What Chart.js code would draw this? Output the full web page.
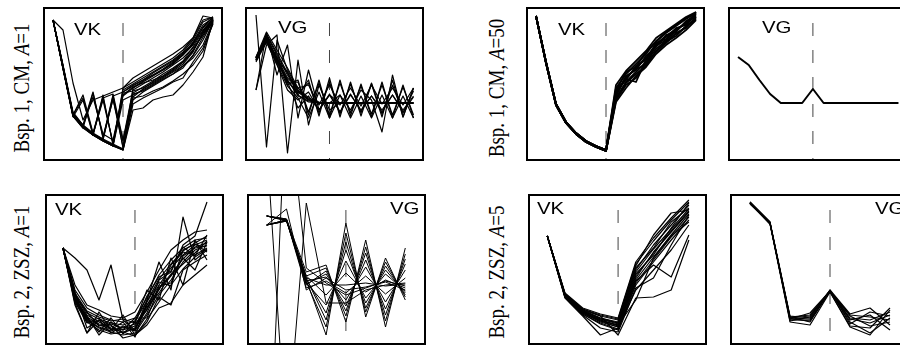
<!DOCTYPE html>
<html>
<head>
<meta charset="utf-8">
<script src="https://cdn.jsdelivr.net/npm/chart.js@4.4.1/dist/chart.umd.min.js"></script>
<style>
  body { margin: 0; background: #fff; }
  #fig { position: relative; width: 900px; height: 347px; overflow: hidden; background: #fff; }
  .panel { position: absolute; border: 2px solid #000; box-sizing: border-box; }
  .panel canvas { display: block; }
  .tag { position: absolute; font-family: "Liberation Sans", Arial, sans-serif; font-size: 17px; line-height: 17px;
         transform: scaleX(1.2); transform-origin: 0 0; white-space: nowrap; color: #000; }
  .rowlab { position: absolute; font-family: "Liberation Serif", "Times New Roman", serif; font-size: 19px; line-height: 19px;
            white-space: nowrap; color: #000; transform: translate(-50%, -50%) scaleX(1.2) rotate(-90deg); }
</style>
</head>
<body>
<div id="fig">
  <div class="rowlab" style="left:21px; top:88px">Bsp. 1, CM, <i>A</i>=1</div>
  <div class="rowlab" style="left:496px; top:88px">Bsp. 1, CM, <i>A</i>=50</div>
  <div class="rowlab" style="left:21px; top:272px">Bsp. 2, ZSZ, <i>A</i>=1</div>
  <div class="rowlab" style="left:496px; top:272px">Bsp. 2, ZSZ, <i>A</i>=5</div>
</div>
<script>
// iteration index on the x axis of each panel
const cmVkIter = [0, 1, 2, 3, 4, 5, 6, 7, 8, 9, 10, 11, 12, 13, 14, 15, 16];
const cmVgIter = [0, 1, 2, 3, 4, 5, 6, 7, 8, 9, 10, 11, 12, 13, 14, 15];
const zszVkIter1 = [0, 1, 2, 3, 4, 5, 6, 7, 8, 9, 10, 11, 12];
const zszVkIter5 = [0, 1, 2, 3, 4, 5, 6, 7, 8];
const zszVgIter = [0, 1, 2, 3, 4, 5, 6, 7];

// Bsp. 1, CM, A=1 -- VK
const cm1VkRuns = [
  [14.1, 9.5, 4.8, 3.5, 2.7, 2.1, 1.6, 1.1, 6.1, 6.9, 7.5, 8.1, 8.7, 9.5, 10.5, 12.1, 14.1],
  [14.1, 9.3, 4.6, 3.4, 2.6, 2.0, 1.5, 6.1, 6.6, 7.1, 7.7, 8.3, 8.9, 9.5, 10.3, 11.6, 13.9],
  [14.1, 9.4, 4.7, 3.5, 2.7, 2.1, 6.5, 6.9, 7.5, 8.1, 8.6, 9.1, 9.7, 10.6, 11.6, 13.1, 14.1],
  [14.1, 9.3, 4.5, 3.3, 2.6, 6.3, 6.7, 2.1, 7.1, 7.7, 8.3, 8.9, 9.6, 10.3, 11.3, 12.6, 14.3],
  [14.1, 9.5, 4.7, 3.6, 6.9, 2.3, 6.6, 1.3, 7.3, 7.9, 8.5, 9.1, 9.8, 10.6, 11.9, 13.6, 14.3],
  [14.1, 9.4, 4.6, 6.6, 2.8, 6.4, 1.7, 7.1, 7.7, 8.3, 8.9, 9.5, 10.1, 10.9, 12.1, 13.9, 14.4],
  [14.1, 13.1, 7.8, 4.1, 6.1, 6.5, 6.9, 7.3, 7.9, 8.5, 9.1, 9.7, 10.3, 11.1, 12.3, 14.1, 14.4],
  [14.1, 9.3, 4.6, 3.4, 2.6, 2.0, 1.5, 1.1, 5.1, 5.3, 6.1, 6.4, 6.6, 7.6, 8.9, 10.4, 14.1],
  [14.1, 9.3, 4.6, 3.5, 2.7, 2.1, 1.6, 7.3, 8.3, 8.9, 9.5, 10.1, 10.7, 11.4, 12.3, 14.5, 14.3],
  [14.1, 9.4, 4.7, 3.5, 6.4, 2.7, 2.1, 6.6, 7.4, 7.8, 8.1, 8.5, 9.1, 9.9, 11.1, 12.6, 13.9],
  [14.1, 9.3, 4.5, 3.4, 2.7, 2.1, 1.5, 1.1, 5.7, 6.3, 6.8, 7.3, 7.9, 8.3, 9.9, 11.3, 13.7],
  [14.1, 9.2, 4.4, 6.1, 2.6, 6.6, 1.6, 6.9, 7.6, 8.1, 8.8, 9.4, 10.0, 10.8, 11.7, 13.3, 14.2],
  [14.1, 9.6, 4.9, 3.6, 2.8, 2.2, 1.7, 1.2, 6.4, 7.2, 7.9, 8.5, 9.2, 9.9, 11.0, 12.8, 14.0],
  [14.1, 9.2, 4.5, 3.3, 6.8, 2.4, 6.2, 1.4, 6.8, 7.4, 8.0, 8.7, 9.3, 10.0, 11.4, 13.0, 14.2],
  [14.1, 9.5, 4.6, 6.3, 2.7, 6.1, 1.8, 6.5, 7.3, 8.0, 8.6, 9.2, 9.9, 10.7, 11.8, 13.4, 14.4],
  [14.1, 9.3, 4.7, 3.4, 2.7, 2.2, 6.2, 2.0, 6.7, 7.0, 7.6, 8.2, 8.7, 9.3, 10.6, 12.4, 14.0],
  [14.1, 9.4, 4.5, 3.5, 2.6, 2.0, 1.5, 6.8, 7.0, 7.3, 7.8, 8.4, 9.0, 9.7, 10.9, 12.9, 14.2],
  [14.1, 9.3, 4.6, 3.4, 2.6, 2.1, 1.6, 1.2, 6.3, 6.5, 7.0, 7.4, 8.0, 8.7, 9.6, 11.0, 13.8],
];

// Bsp. 1, CM, A=1 -- VG
const cm1VgRuns = [
  [10.3, 12.6, 10.6, 8.6, 6.9, 6.1, 5.8, 5.8, 5.8, 5.8, 5.8, 5.8, 5.8, 5.8, 5.8, 5.8],
  [10.1, 12.1, 9.9, 8.1, 6.5, 6.0, 5.8, 5.8, 5.8, 5.8, 5.8, 5.8, 5.8, 5.8, 5.8, 5.8],
  [10.4, 12.9, 11.1, 9.3, 7.3, 6.3, 5.9, 5.8, 5.8, 5.8, 5.8, 5.8, 5.8, 5.8, 5.8, 5.8],
  [10.3, 12.5, 10.1, 8.9, 6.6, 8.1, 4.5, 8.3, 4.4, 7.9, 4.5, 7.7, 4.4, 8.1, 4.4, 7.3],
  [10.1, 12.1, 10.3, 7.6, 8.1, 4.6, 8.1, 4.3, 8.1, 4.5, 7.7, 4.4, 7.9, 4.3, 7.6, 4.3],
  [9.9, 11.9, 9.6, 7.1, 6.1, 6.9, 5.1, 6.7, 4.9, 6.6, 5.1, 6.5, 4.9, 6.6, 5.1, 6.5],
  [10.4, 12.3, 9.9, 7.9, 5.3, 6.5, 5.1, 6.6, 4.9, 6.7, 5.0, 6.5, 5.1, 6.6, 4.9, 6.4],
  [10.1, 12.4, 10.3, 8.3, 7.3, 7.6, 5.6, 7.6, 5.6, 7.3, 5.5, 7.6, 5.7, 7.3, 5.6, 7.3],
  [10.3, 11.9, 9.7, 7.5, 6.3, 4.3, 6.9, 4.3, 6.6, 4.3, 6.5, 4.3, 6.6, 4.3, 6.5, 4.3],
  [10.2, 12.2, 10.0, 8.0, 6.8, 7.8, 4.8, 7.9, 4.7, 7.7, 4.8, 7.8, 4.7, 7.6, 4.8, 7.0],
  [10.0, 12.0, 10.4, 7.8, 7.9, 4.9, 7.8, 4.6, 7.8, 4.8, 7.5, 4.7, 7.6, 4.6, 7.4, 4.6],
  [10.3, 12.7, 10.8, 8.8, 7.0, 6.2, 5.8, 5.8, 5.8, 5.8, 5.8, 5.8, 5.8, 5.8, 5.8, 5.8],
  [14.6, 1.4, 12.1, 9.1, 7.1, 6.1, 5.8, 5.8, 5.8, 5.8, 5.8, 5.8, 5.8, 5.8, 5.8, 5.8],
  [7.1, 11.6, 12.6, 0.8, 10.1, 3.6, 7.6, 5.1, 5.8, 5.8, 5.8, 5.8, 5.8, 5.8, 5.8, 5.8],
  [7.1, 12.8, 8.6, 11.6, 4.3, 9.1, 5.1, 6.6, 5.8, 5.8, 5.8, 5.8, 5.8, 5.8, 5.8, 5.8],
  [10.3, 12.1, 10.1, 8.1, 6.6, 5.9, 5.8, 5.8, 6.6, 5.1, 7.1, 6.1, 2.9, 8.6, 4.4, 7.3],
];

// Bsp. 1, CM, A=50 -- VK
const cm50VkRuns = [
  [14.5, 9.9, 5.7, 3.9, 2.8, 2.0, 1.5, 1.1, 7.3, 8.7, 9.7, 10.7, 12.0, 12.8, 13.5, 14.2, 14.8],
  [14.5, 9.8, 5.6, 3.8, 2.7, 1.9, 1.4, 1.0, 6.8, 8.3, 9.3, 10.3, 11.6, 12.4, 13.1, 13.8, 14.5],
  [14.5, 9.9, 5.7, 3.9, 2.8, 2.0, 1.5, 1.1, 6.3, 7.9, 8.9, 9.9, 11.2, 12.0, 12.7, 13.4, 14.2],
  [14.5, 9.8, 5.6, 3.8, 2.7, 1.9, 1.4, 1.0, 6.6, 8.5, 9.1, 10.5, 11.4, 12.6, 12.9, 14.0, 14.6],
  [14.5, 9.9, 5.7, 3.9, 2.8, 2.0, 1.5, 1.1, 7.1, 8.1, 9.5, 10.1, 11.8, 12.2, 13.3, 13.6, 14.7],
  [14.5, 9.8, 5.6, 3.8, 2.7, 1.9, 1.4, 1.0, 6.1, 7.6, 8.3, 9.8, 10.9, 11.9, 12.5, 13.5, 14.3],
  [14.5, 9.9, 5.7, 3.9, 2.8, 2.0, 1.5, 1.1, 6.9, 8.2, 7.9, 10.1, 11.5, 12.1, 13.0, 13.9, 14.4],
  [14.5, 9.8, 5.6, 3.8, 2.7, 1.9, 1.4, 1.0, 6.5, 8.4, 9.2, 9.6, 11.7, 12.5, 13.2, 13.7, 14.9],
  [14.5, 9.9, 5.7, 3.9, 2.8, 2.0, 1.5, 1.1, 7.6, 9.0, 10.0, 11.0, 12.3, 13.0, 13.7, 14.4, 14.9],
  [14.5, 9.8, 5.6, 3.8, 2.7, 1.9, 1.4, 1.0, 5.9, 7.3, 8.5, 9.4, 10.7, 11.6, 12.3, 13.1, 14.1],
  [14.5, 9.9, 5.7, 3.9, 2.8, 2.0, 1.5, 1.1, 7.0, 8.9, 9.4, 10.9, 11.9, 12.9, 13.6, 14.3, 14.8],
  [14.5, 9.8, 5.6, 3.8, 2.7, 1.9, 1.4, 1.0, 6.2, 7.8, 8.7, 9.5, 11.0, 11.8, 12.8, 13.3, 14.4],
];

// Bsp. 1, CM, A=50 -- VG (all runs coincide)
const cm50VgRuns = [
  [10.4, 9.6, 8.1, 6.7, 5.8, 5.8, 5.8, 7.2, 5.8, 5.8, 5.8, 5.8, 5.8, 5.8, 5.8, 5.8],
];

// Bsp. 2, ZSZ, A=1 -- VK
const zsz1VkRuns = [
  [9.7, 5.0, 3.0, 2.3, 1.7, 1.5, 1.9, 4.0, 6.0, 7.7, 9.0, 10.0, 10.5],
  [9.7, 4.5, 2.5, 1.7, 1.3, 1.0, 1.2, 3.0, 5.0, 6.5, 8.3, 9.5, 10.0],
  [9.7, 5.5, 3.7, 3.0, 2.5, 2.3, 2.7, 4.7, 7.0, 8.5, 9.7, 10.5, 10.7],
  [9.7, 8.7, 7.5, 4.5, 8.0, 2.5, 1.5, 4.5, 8.3, 5.5, 12.8, 8.5, 9.5],
  [9.7, 4.2, 1.2, 3.3, 1.5, 3.0, 1.0, 2.3, 4.8, 4.0, 7.5, 8.3, 9.0],
  [9.7, 4.7, 2.7, 1.3, 2.7, 1.1, 2.3, 5.5, 4.5, 8.7, 6.0, 10.5, 8.5],
  [9.7, 6.0, 4.0, 3.5, 2.9, 2.7, 3.3, 5.3, 7.5, 9.5, 10.5, 11.3, 11.5],
  [9.7, 4.0, 1.2, 2.5, 2.0, 0.7, 1.0, 2.0, 3.7, 4.2, 6.0, 7.0, 8.0],
  [9.7, 4.9, 3.3, 1.9, 2.1, 1.7, 2.1, 3.5, 6.5, 7.3, 10.0, 10.9, 14.3],
  [9.7, 5.3, 1.7, 2.5, 1.2, 1.9, 1.5, 4.0, 5.5, 8.0, 9.3, 9.0, 9.7],
  [9.7, 4.5, 2.9, 1.0, 2.3, 1.5, 2.7, 2.7, 5.7, 6.9, 8.7, 7.5, 10.3],
  [9.7, 4.3, 2.2, 2.7, 1.5, 2.3, 0.8, 4.3, 6.3, 5.9, 9.5, 10.1, 9.3],
  [9.7, 4.6, 2.6, 2.0, 1.6, 1.3, 1.6, 3.6, 5.6, 7.1, 8.6, 9.8, 10.2],
  [9.7, 5.1, 3.2, 2.6, 2.2, 2.0, 2.4, 4.4, 6.6, 8.1, 9.4, 10.2, 10.9],
  [9.7, 4.4, 2.3, 1.5, 1.1, 1.3, 0.9, 2.6, 4.3, 6.0, 7.6, 8.8, 9.6],
  [9.7, 4.8, 2.8, 2.1, 1.9, 1.2, 1.7, 3.8, 5.2, 7.0, 8.1, 9.2, 10.4],
  [9.7, 5.2, 3.4, 2.8, 2.4, 2.6, 2.2, 4.9, 6.8, 7.4, 9.8, 8.9, 11.0],
  [9.7, 4.6, 2.4, 1.8, 1.4, 1.8, 1.4, 3.2, 5.9, 6.2, 8.9, 9.7, 9.9],
];

// Bsp. 2, ZSZ, A=1 -- VG
const zsz1VgRuns = [
  [12.9, 12.5, 6.5, 1.0, 12.2, 2.8, 8.7, 4.5],
  [12.0, 12.4, 6.7, 2.5, 10.3, 3.7, 7.9, 5.0],
  [12.9, 12.5, 6.2, 4.0, 8.4, 4.7, 7.1, 5.4],
  [12.0, 12.4, 6.9, 5.0, 7.2, 5.3, 6.5, 5.7],
  [12.9, 12.6, 7.3, 8.0, 2.3, 10.5, 1.8, 9.7],
  [12.0, 12.5, 6.0, 7.4, 3.4, 9.2, 3.0, 8.6],
  [12.9, 12.4, 6.4, 6.8, 4.5, 7.8, 4.3, 7.5],
  [12.0, 12.5, 5.7, 6.4, 5.2, 6.9, 5.1, 6.7],
  [12.9, 12.5, 6.7, 6.0, 6.0, 6.2, 5.9, 6.1],
  [12.0, 13.6, 5.5, 6.7, 5.5, 5.8, 6.3, 5.5],
  [12.9, 12.5, 6.3, 1.8, 11.2, 3.3, 8.3, 4.8],
  [12.0, 12.4, 6.9, 7.7, 2.9, 9.8, 2.4, 9.1],
  [12.9, 12.6, 6.6, 3.2, 9.5, 4.2, 7.5, 5.2],
  [12.0, 12.5, 6.1, 7.1, 3.9, 8.5, 3.6, 8.1],
  [20.1, -9.9, 14.2, 4.2, 4.2, 5.5, 6.0, 6.2],
  [-18.9, 26.2, 7.7, 6.2, 5.0, 5.7, 6.4, 5.9],
];

// Bsp. 2, ZSZ, A=5 -- VK
const zsz5VkRuns = [
  [10.9, 5.0, 3.5, 2.7, 2.3, 7.5, 10.0, 12.0, 14.0],
  [10.9, 4.9, 3.3, 2.5, 1.9, 6.7, 9.3, 11.3, 13.3],
  [10.9, 5.2, 3.7, 3.1, 2.7, 8.3, 10.7, 12.7, 14.5],
  [10.9, 4.8, 3.1, 2.1, 1.5, 6.0, 8.3, 10.5, 12.5],
  [10.9, 4.7, 2.9, 1.0, 1.7, 5.5, 7.5, 9.5, 12.0],
  [10.9, 5.1, 3.6, 2.9, 1.0, 4.7, 4.8, 5.5, 10.5],
  [10.9, 5.0, 3.4, 2.6, 2.1, 7.1, 9.0, 11.7, 14.2],
  [10.9, 4.9, 3.2, 2.3, 1.8, 6.4, 8.0, 6.8, 11.0],
  [10.9, 5.1, 3.5, 2.9, 2.5, 7.9, 11.0, 13.2, 13.5],
  [10.9, 4.8, 3.0, 1.7, 1.3, 5.7, 6.7, 10.0, 13.0],
  [10.9, 5.0, 3.3, 2.4, 2.0, 4.5, 8.7, 10.9, 12.3],
  [10.9, 4.9, 3.4, 2.7, 2.2, 7.7, 9.7, 12.3, 13.7],
  [10.9, 5.0, 3.4, 2.6, 2.2, 7.3, 9.6, 11.6, 13.6],
  [10.9, 4.9, 3.2, 2.4, 1.8, 6.5, 8.8, 11.0, 13.1],
  [10.9, 5.1, 3.6, 3.0, 2.6, 8.1, 10.4, 12.5, 14.3],
  [10.9, 4.8, 3.1, 2.2, 1.6, 6.2, 8.5, 10.8, 12.8],
  [10.9, 5.0, 3.3, 2.5, 2.0, 6.9, 9.2, 11.4, 13.4],
];

// Bsp. 2, ZSZ, A=5 -- VG
const zsz5VgRuns = [
  [14.2, 12.2, 2.7, 2.9, 5.4, 2.7, 2.5, 3.3],
  [14.2, 12.2, 2.5, 2.5, 5.4, 2.3, 1.2, 2.7],
  [14.3, 12.3, 2.9, 2.7, 5.5, 3.1, 3.7, 2.0],
  [14.2, 12.1, 2.3, 2.0, 5.3, 1.9, 1.7, 3.7],
  [14.1, 12.2, 2.6, 3.2, 5.4, 2.5, 3.0, 1.5],
  [14.2, 12.2, 2.8, 2.3, 5.4, 2.9, 1.9, 2.3],
  [14.3, 12.3, 2.4, 2.8, 5.5, 2.1, 3.3, 2.9],
  [14.2, 12.1, 2.7, 2.6, 5.3, 1.8, 1.0, 3.5],
  [14.2, 12.2, 2.6, 2.4, 5.4, 2.6, 2.2, 3.0],
  [14.2, 12.2, 2.8, 3.0, 5.4, 3.0, 2.8, 2.5],
];

// panel layout: frame box [left, top, width, height], axis ranges, switch point
const panels = [
  { box: [43, 7, 180, 154], xr: [-0.8, 16.8], yr: [0.2, 15.2], iter: cmVkIter, runs: cm1VkRuns, cut: 7, lw: 1.2, tag: "VK", tagAt: [74, 21] },
  { box: [245, 7, 179, 154], xr: [-0.857, 15.81], yr: [0.2, 15.2], iter: cmVgIter, runs: cm1VgRuns, cut: 7, lw: 1.2, tag: "VG", tagAt: [278, 19] },
  { box: [526, 7, 179, 154], xr: [-0.8, 16.7], yr: [0.2, 15.2], iter: cmVkIter, runs: cm50VkRuns, cut: 7, lw: 1.8, tag: "VK", tagAt: [558, 21] },
  { box: [728, 7, 179, 154], xr: [-0.75, 15.61], yr: [0.2, 15.2], iter: cmVgIter, runs: cm50VgRuns, cut: 7, lw: 2, tag: "VG", tagAt: [762, 19] },
  { box: [45, 194, 179, 151], xr: [-1.33, 13.25], yr: [0.2, 14.9], iter: zszVkIter1, runs: zsz1VkRuns, cut: 6, lw: 1.2, tag: "VK", tagAt: [55, 201] },
  { box: [247, 194, 179, 151], xr: [-0.894, 7.944], yr: [0.2, 14.9], iter: zszVgIter, runs: zsz1VgRuns, cut: 4, lw: 1, tag: "VG", tagAt: [390, 200] },
  { box: [528, 194, 179, 151], xr: [-0.977, 8.91], yr: [0.2, 14.9], iter: zszVkIter5, runs: zsz5VkRuns, cut: 4, lw: 1.2, tag: "VK", tagAt: [537, 200] },
  { box: [730, 194, 179, 151], xr: [-0.9, 7.85], yr: [0.2, 14.9], iter: zszVgIter, runs: zsz5VgRuns, cut: 4, lw: 1.2, tag: "VG", tagAt: [875, 200] },
];

const fig = document.getElementById("fig");

function drawPanel(p) {
  const wrap = document.createElement("div");
  wrap.className = "panel";
  wrap.style.left = p.box[0] + "px";
  wrap.style.top = p.box[1] + "px";
  wrap.style.width = p.box[2] + "px";
  wrap.style.height = p.box[3] + "px";
  const canvas = document.createElement("canvas");
  canvas.width = p.box[2] - 4;
  canvas.height = p.box[3] - 4;
  wrap.appendChild(canvas);
  fig.appendChild(wrap);

  const tag = document.createElement("div");
  tag.className = "tag";
  tag.textContent = p.tag;
  tag.style.left = p.tagAt[0] + "px";
  tag.style.top = p.tagAt[1] + "px";
  fig.appendChild(tag);

  const datasets = p.runs.map((run) => ({
    data: run.map((v, i) => ({ x: p.iter[i], y: v })),
    borderColor: "#000",
    borderWidth: p.lw,
    borderJoinStyle: "round",
    pointRadius: 0,
    fill: false,
  }));
  // dashed marker where VK/VG switches
  datasets.push({
    data: [{ x: p.cut, y: p.yr[1] }, { x: p.cut, y: p.yr[0] }],
    borderColor: "#444",
    borderWidth: 1,
    borderDash: [13, 14],
    borderDashOffset: 13,
    pointRadius: 0,
    fill: false,
  });

  new Chart(canvas, {
    type: "line",
    data: { datasets },
    options: {
      responsive: false,
      animation: false,
      events: [],
      layout: { padding: 0 },
      plugins: { legend: { display: false }, tooltip: { enabled: false } },
      scales: {
        x: { type: "linear", display: false, min: p.xr[0], max: p.xr[1] },
        y: { type: "linear", display: false, min: p.yr[0], max: p.yr[1] },
      },
    },
  });
}

panels.forEach(drawPanel);
</script>
</body>
</html>
